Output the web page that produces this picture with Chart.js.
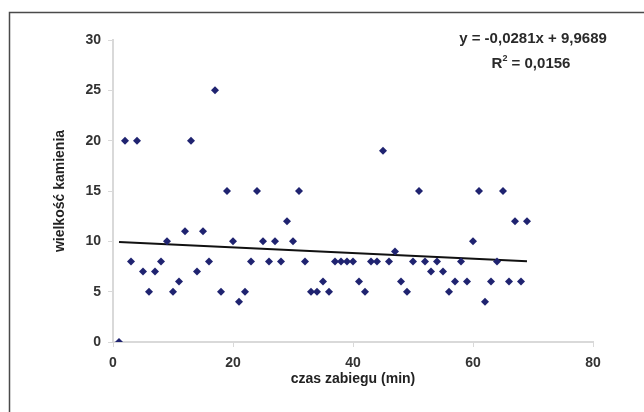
<!DOCTYPE html>
<html>
<head>
<meta charset="utf-8">
<script src="https://cdn.jsdelivr.net/npm/chart.js@4/dist/chart.umd.min.js"></script>
<style>
html,body{margin:0;padding:0;background:#fff;}
#wrap{width:644px;height:412px;position:relative;}
</style>
</head>
<body>
<div id="wrap"><canvas id="c" width="644" height="412"></canvas></div>
<script>
// Data
const czasZabiegu = [1,2,3,4,5,6,7,8,9,10,11,12,13,14,15,16,17,18,19,20,21,22,23,24,25,26,27,28,29,30,31,32,33,34,35,36,37,38,39,40,41,42,43,44,45,46,47,48,49,50,51,52,53,54,55,56,57,58,59,60,61,62,63,64,65,66,67,68,69];
const wielkoscKamienia = [0,20,8,20,7,5,7,8,10,5,6,11,20,7,11,8,25,5,15,10,4,5,8,15,10,8,10,8,12,10,15,8,5,5,6,5,8,8,8,8,6,5,8,8,19,8,9,6,5,8,15,8,7,8,7,5,6,8,6,10,15,4,6,8,15,6,12,6,12];
const trendSlope = -0.0281;
const trendIntercept = 9.9689;
const trendXRange = [1, 69];
const equationText = 'y = -0,0281x + 9,9689';
const r2Prefix = 'R';
const r2Sup = '2';
const r2Rest = ' = 0,0156';
const xTicks = [0, 20, 40, 60, 80];
const yTicks = [0, 5, 10, 15, 20, 25, 30];

const points = czasZabiegu.map((x, i) => ({x: x, y: wielkoscKamienia[i]}));
const trendPoints = trendXRange.map(x => ({x: x, y: trendSlope * x + trendIntercept}));

const FONT = '"Liberation Sans", Arial, sans-serif';
const AXIS_COLOR = '#d9d9d9';

const decorPlugin = {
  id: 'decor',
  beforeDraw(chart) {
    const ctx = chart.ctx;
    ctx.save();
    ctx.fillStyle = '#fff';
    ctx.fillRect(0, 0, chart.width, chart.height);
    ctx.restore();
  },
  afterDraw(chart) {
    const ctx = chart.ctx;
    ctx.save();
    ctx.strokeStyle = '#4a4a4a';
    ctx.lineWidth = 1.5;
    ctx.beginPath();
    ctx.moveTo(9.5, chart.height + 2);
    ctx.lineTo(9.5, 12.5);
    ctx.lineTo(chart.width + 2, 12.5);
    ctx.stroke();
    ctx.fillStyle = '#2a2a2a';
    ctx.textBaseline = 'middle';
    ctx.textAlign = 'center';
    const big = 'bold 15px ' + FONT;
    const small = 'bold 9px ' + FONT;
    ctx.font = big;
    ctx.fillText(equationText, 533, 39);
    ctx.font = big;
    const wR = ctx.measureText(r2Prefix).width;
    const wRest = ctx.measureText(r2Rest).width;
    ctx.font = small;
    const wS = ctx.measureText(r2Sup).width;
    const total = wR + wS + wRest;
    let x0 = 531 - total / 2;
    ctx.textAlign = 'left';
    ctx.font = big;
    ctx.fillText(r2Prefix, x0, 64);
    ctx.font = small;
    ctx.fillText(r2Sup, x0 + wR, 59);
    ctx.font = big;
    ctx.fillText(r2Rest, x0 + wR + wS, 64);
    ctx.restore();
  }
};

new Chart(document.getElementById('c'), {
  type: 'scatter',
  data: {
    datasets: [
      {
        label: 'wielkość kamienia',
        data: points,
        pointStyle: 'rectRot',
        pointRadius: 4,
        pointHoverRadius: 4,
        backgroundColor: '#1f2370',
        borderColor: '#1f2370',
        borderWidth: 0
      },
      {
        label: 'trend',
        type: 'line',
        data: trendPoints,
        borderColor: '#111',
        borderWidth: 2,
        pointRadius: 0,
        fill: false
      }
    ]
  },
  plugins: [decorPlugin],
  options: {
    responsive: false,
    animation: false,
    events: [],
    layout: {padding: {left: 48, top: 40, right: 51, bottom: 20}},
    plugins: {legend: {display: false}, tooltip: {enabled: false}},
    scales: {
      x: {
        type: 'linear',
        min: 0, max: 80,
        afterBuildTicks: s => { s.ticks = xTicks.map(v => ({value: v})); },
        afterFit: s => { s.height = 50; },
        border: {display: true, color: AXIS_COLOR, width: 2},
        grid: {display: true, drawOnChartArea: false, drawTicks: true, tickLength: 5, color: AXIS_COLOR, lineWidth: 1},
        ticks: {color: '#333', padding: 8, font: {family: FONT, size: 14, weight: 'bold'}, maxRotation: 0},
        title: {display: true, text: 'czas zabiegu (min)', color: '#222', padding: {top: 4, bottom: 4}, font: {family: FONT, size: 14, weight: 'bold'}}
      },
      y: {
        type: 'linear',
        min: 0, max: 30,
        afterBuildTicks: s => { s.ticks = yTicks.map(v => ({value: v})); },
        afterFit: s => { s.width = 65; },
        border: {display: true, color: AXIS_COLOR, width: 2},
        grid: {display: true, drawOnChartArea: false, drawTicks: true, tickLength: 5, color: AXIS_COLOR, lineWidth: 1},
        ticks: {color: '#333', padding: 7, font: {family: FONT, size: 14, weight: 'bold'}},
        title: {display: true, text: 'wielkość kamienia', color: '#222', padding: {top: 4, bottom: 4}, font: {family: FONT, size: 14, weight: 'bold'}}
      }
    }
  }
});
</script>
</body>
</html>
